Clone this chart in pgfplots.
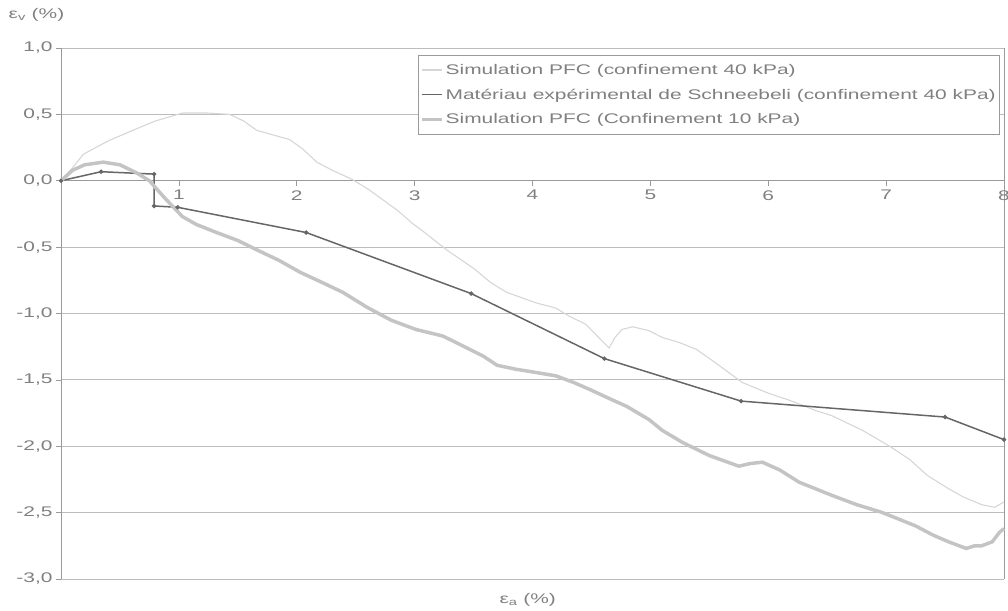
\documentclass[border=0pt]{standalone}
\usepackage{pgfplots}
\pgfplotsset{compat=1.18}
\usepackage{fontspec}
\setmainfont[FakeStretch=1.5]{Liberation Sans}
\definecolor{txt}{HTML}{808080}
\definecolor{gridc}{HTML}{BDBDBD}
\definecolor{axc}{HTML}{9A9A9A}
\definecolor{expc}{HTML}{666666}
\definecolor{pfcA}{HTML}{D6D6D6}
\definecolor{pfcB}{HTML}{C4C4C4}
\begin{document}
\begin{tikzpicture}
\useasboundingbox (-61bp,-32bp) rectangle (947bp,579bp);
\begin{axis}[
  scale only axis, width=943bp, height=531bp,
  xmin=0, xmax=8, ymin=-3, ymax=1,
  axis x line*=middle, axis y line*=left,
  axis line style={axc, line width=0.8pt, -},
  xtick={0,1,...,7}, xticklabels={0,1,2,3,4,5,6,7},
  extra x ticks={8}, extra x tick labels={8},
  extra x tick style={grid=major, major grid style={axc, line width=0.8pt}},
  ytick={-3,-2.5,...,1},
  yticklabels={{-3,0},{-2,5},{-2,0},{-1,5},{-1,0},{-0,5},{0,0},{0,5},{1,0}},
  ymajorgrids, major grid style={gridc, line width=0.8pt},
  tick align=outside, major tick length=5bp,
  tick style={axc, line width=0.6pt},
  tick label style={font=\fontsize{14}{15}\selectfont, text=txt},
  xticklabel style={yshift=-1bp},
  yticklabel style={xshift=0bp},
  clip=false,
  legend style={at={(rel axis cs:0.9958,0.987)}, anchor=north east,
    draw=axc, line width=0.6pt, fill=white,
    font=\fontsize{14}{15}\selectfont, text=txt,
    row sep=9bp, inner xsep=2bp, inner ysep=7bp},
  legend cell align=left,
  legend image code/.code={\draw[#1] (0bp,0bp) -- (20bp,0bp);},
]
\addplot[pfcA, line width=1.1pt] coordinates {
(0,0) (0.1,0.1) (0.19,0.2) (0.4,0.3) (0.61,0.38) (0.8,0.45) (1.03,0.51) (1.25,0.51)
(1.43,0.5) (1.55,0.45) (1.66,0.38) (1.94,0.31) (2.05,0.24) (2.17,0.14) (2.3,0.08)
(2.47,0.01) (2.6,-0.06) (2.85,-0.22) (2.98,-0.32) (3.1,-0.4) (3.27,-0.52) (3.5,-0.66)
(3.65,-0.77) (3.78,-0.84) (4.03,-0.92) (4.2,-0.96) (4.31,-1.02) (4.45,-1.08) (4.55,-1.17)
(4.65,-1.26) (4.7,-1.18) (4.76,-1.12) (4.85,-1.1) (4.99,-1.13) (5.1,-1.18) (5.25,-1.22)
(5.39,-1.27) (5.55,-1.37) (5.78,-1.52) (6.0,-1.6) (6.2,-1.66) (6.4,-1.73) (6.54,-1.77)
(6.8,-1.88) (7.03,-2.0) (7.2,-2.1) (7.35,-2.22) (7.53,-2.32) (7.65,-2.38) (7.81,-2.44)
(7.92,-2.46) (8.0,-2.42)
};
\addlegendentry{Simulation PFC (confinement 40 kPa)}
\addplot[expc, line width=1.5pt, mark=*, mark size=1.4pt, mark options={solid}] coordinates {
(0,0) (0.34,0.068) (0.79,0.05) (0.79,-0.19) (0.99,-0.2) (2.08,-0.39) (3.48,-0.85)
(4.61,-1.34) (5.77,-1.66) (7.5,-1.78) (8.0,-1.95)
};
\addlegendentry{Matériau expérimental de Schneebeli (confinement 40 kPa)}
\addplot[pfcB, line width=3.5pt] coordinates {
(0,0) (0.1,0.08) (0.2,0.12) (0.36,0.14) (0.5,0.12) (0.64,0.06) (0.75,0.0) (0.88,-0.13)
(1.03,-0.27) (1.15,-0.33) (1.32,-0.39) (1.5,-0.45) (1.66,-0.52) (1.85,-0.6) (2.03,-0.69)
(2.2,-0.76) (2.39,-0.84) (2.59,-0.95) (2.8,-1.05) (3.01,-1.12) (3.24,-1.17) (3.4,-1.24)
(3.58,-1.32) (3.7,-1.39) (3.86,-1.42) (4.0,-1.44) (4.2,-1.47) (4.35,-1.52) (4.48,-1.57)
(4.65,-1.64) (4.8,-1.7) (4.99,-1.80) (5.1,-1.88) (5.27,-1.97) (5.5,-2.07) (5.75,-2.15)
(5.85,-2.13) (5.95,-2.12) (6.1,-2.18) (6.26,-2.27) (6.54,-2.37) (6.75,-2.44) (6.97,-2.50)
(7.25,-2.60) (7.4,-2.67) (7.53,-2.72) (7.68,-2.77) (7.75,-2.75) (7.81,-2.75) (7.9,-2.72)
(7.96,-2.65) (8.0,-2.62)
};
\addlegendentry{Simulation PFC (Confinement 10 kPa)}
\node[text=txt, font=\fontsize{14}{15}\selectfont] at (rel axis cs:-0.026,1.062) {ε\textsubscript{v} (\%)};
\node[text=txt, font=\fontsize{14}{15}\selectfont] at (rel axis cs:0.495,-0.04) {ε\textsubscript{a} (\%)};
\end{axis}
\end{tikzpicture}
\end{document}
